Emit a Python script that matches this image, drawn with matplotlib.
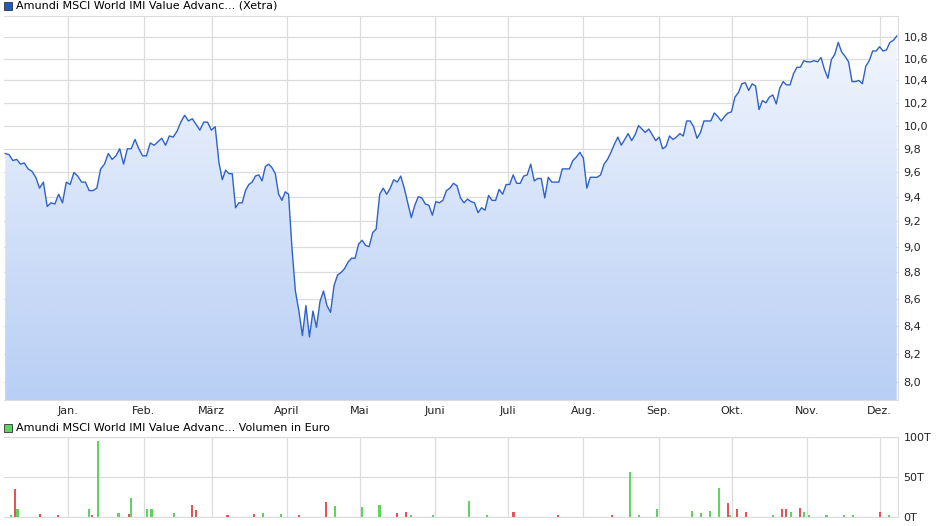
import numpy as np
import pandas as pd
import matplotlib
matplotlib.use("Agg")
import matplotlib.pyplot as plt
from matplotlib.patches import Polygon
from matplotlib.ticker import FixedLocator, NullLocator, FuncFormatter

prices = [9.76, 9.75, 9.70, 9.71, 9.67, 9.68, 9.63, 9.61, 9.56, 9.47, 9.52, 9.32, 9.35, 9.34, 9.42, 9.35,
          9.52, 9.50, 9.60, 9.57, 9.52, 9.52, 9.45, 9.45, 9.47, 9.63, 9.67, 9.76, 9.71, 9.74, 9.80, 9.67,
          9.80, 9.80, 9.88, 9.80, 9.74, 9.74, 9.85, 9.83, 9.86, 9.89, 9.83, 9.91, 9.90, 9.95, 10.03, 10.09,
          10.04, 10.06, 10.01, 9.96, 10.03, 10.03, 9.96, 9.99, 9.68, 9.54, 9.62, 9.59, 9.59, 9.31, 9.35, 9.35,
          9.45, 9.50, 9.52, 9.57, 9.58, 9.53, 9.65, 9.67, 9.64, 9.59, 9.42, 9.37, 9.44, 9.42,
          9.00, 8.66, 8.51, 8.33, 8.55, 8.32, 8.51, 8.39, 8.58, 8.66, 8.55, 8.50, 8.70, 8.78, 8.80, 8.83,
          8.88, 8.91, 8.91,
          9.02, 9.05, 9.01, 9.00, 9.11, 9.14, 9.42, 9.47, 9.42, 9.47, 9.54, 9.52, 9.57, 9.47, 9.35, 9.23,
          9.33, 9.40, 9.39, 9.34, 9.33, 9.25, 9.36, 9.35, 9.37, 9.45, 9.47, 9.51, 9.49, 9.39, 9.35, 9.38, 9.36,
          9.35, 9.27, 9.31, 9.29, 9.41, 9.37, 9.37, 9.46, 9.42, 9.50, 9.50, 9.58, 9.51, 9.51, 9.57, 9.58,
          9.67, 9.53, 9.55, 9.55, 9.39, 9.56, 9.52, 9.52, 9.52, 9.63, 9.63, 9.63, 9.70, 9.73, 9.77, 9.72,
          9.47, 9.56, 9.56, 9.56, 9.58, 9.67, 9.71, 9.77, 9.84, 9.90, 9.83, 9.88, 9.93, 9.87, 9.92, 10.00,
          9.97, 9.94, 9.97, 9.92, 9.87, 9.90, 9.80, 9.82, 9.91, 9.88, 9.90, 9.93, 9.91, 10.04, 10.04, 9.99,
          9.89, 9.94, 10.04, 10.04, 10.04, 10.11, 10.08, 10.04, 10.08, 10.11, 10.12, 10.25, 10.29, 10.37,
          10.38, 10.31, 10.37, 10.35, 10.14, 10.22, 10.20, 10.25, 10.27, 10.19, 10.33, 10.39, 10.36, 10.36,
          10.46, 10.52, 10.52, 10.58, 10.57, 10.57, 10.58, 10.57, 10.61, 10.50, 10.42, 10.59, 10.64, 10.75,
          10.66, 10.62, 10.57, 10.39, 10.39, 10.40, 10.37, 10.53, 10.58, 10.67, 10.67, 10.71, 10.67, 10.68,
          10.75, 10.77, 10.81]

# known dates for a few points of the series (index -> date)
anchor_idx = [0, 56, 78, 161, len(prices) - 1]
anchor_dates = ["2024-12-06", "2025-03-04", "2025-04-03", "2025-08-01", "2025-12-08"]

# volume events: (fraction of the time span, value in T, up-day)
vol_pos = [0.008, 0.012, 0.015, 0.04, 0.06, 0.095, 0.105, 0.098, 0.128, 0.140, 0.142, 0.16, 0.165,
           0.19, 0.21, 0.215, 0.25, 0.28, 0.29, 0.31, 0.33, 0.36, 0.37, 0.40, 0.42, 0.44, 0.45, 0.455,
           0.48, 0.52, 0.54, 0.57, 0.62, 0.68, 0.70, 0.71, 0.73, 0.77, 0.78, 0.79, 0.80, 0.81, 0.812,
           0.82, 0.83, 0.86, 0.87, 0.875, 0.88, 0.89, 0.895, 0.90, 0.92, 0.94, 0.95, 0.98, 0.99]
vol_val = [2, 35, 10, 4, 2, 10, 95, 3, 5, 4, 24, 10, 10, 5, 15, 9, 3, 4, 5, 4, 3, 19, 14, 12, 15,
           5, 6, 3, 2, 20, 2, 6, 3, 3, 56, 2, 10, 8, 5, 8, 36, 17, 3, 10, 6, 2, 10, 10, 6, 11, 6, 3,
           2, 2, 2, 6, 2]
vol_up = [1, 0, 1, 0, 0, 1, 1, 0, 1, 0, 1, 1, 1, 1, 0, 0, 0, 0, 1, 1, 0, 0, 1, 1, 1, 0, 0, 1, 1,
          1, 1, 0, 0, 0, 1, 1, 1, 1, 1, 1, 1, 0, 1, 0, 0, 1, 0, 0, 1, 0, 1, 1, 1, 1, 1, 0, 1]

month_labels = ["Jan.", "Feb.", "März", "April", "Mai", "Juni", "Juli", "Aug.", "Sep.", "Okt.", "Nov.", "Dez."]
price_ticks = [8.0, 8.2, 8.4, 8.6, 8.8, 9.0, 9.2, 9.4, 9.6, 9.8, 10.0, 10.2, 10.4, 10.6, 10.8]

anchor_num = matplotlib.dates.date2num(pd.to_datetime(anchor_dates))
x = np.interp(np.arange(len(prices)), anchor_idx, anchor_num)
x0, x1 = x[0] - 0.5, x[-1] + 0.5
month_x = matplotlib.dates.date2num(pd.date_range("2025-01-01", periods=12, freq="MS"))

W, H = 940, 526
fig = plt.figure(figsize=(W / 100, H / 100), dpi=100)
grid_c = "#dcdcdc"

ax = fig.add_axes([4 / W, 1 - 400 / H, 894 / W, 384 / H])
ax.set_yscale("log")
ymin, ymax = 7.876, 11.0
ax.set_xlim(x0, x1)
ax.set_ylim(ymin, ymax)
grad = np.linspace(0, 1, 256).reshape(-1, 1)
cmap = matplotlib.colors.LinearSegmentedColormap.from_list("g", ["#b9cff5", "#f6f9fe"])
im = ax.imshow(grad, aspect="auto", cmap=cmap, origin="lower",
               extent=[x0, x1, ymin, ymax], zorder=1)
poly = Polygon(np.column_stack([np.r_[x[0], x, x[-1]], np.r_[ymin, prices, ymin]]),
               closed=True, transform=ax.transData, facecolor="none", edgecolor="none")
ax.add_patch(poly)
im.set_clip_path(poly)
ax.plot(x, prices, color="#2f62c8", lw=1.0, zorder=3)
ax.yaxis.set_major_locator(FixedLocator(price_ticks))
ax.yaxis.set_minor_locator(NullLocator())
ax.yaxis.set_major_formatter(FuncFormatter(lambda v, p: f"{v:.1f}".replace(".", ",")))
ax.yaxis.tick_right()
ax.set_xticks(month_x)
ax.set_xticklabels(month_labels)
ax.tick_params(length=0, labelsize=8, colors="#222222", pad=4)
ax.grid(True, color=grid_c, lw=0.9, zorder=0)
ax.set_axisbelow(True)
for s in ax.spines.values():
    s.set_color(grid_c)
ax.spines["left"].set_visible(False)
fig.text(16 / W, 1 - 6 / H, "Amundi MSCI World IMI Value Advanc... (Xetra)", fontsize=8, va="center")
fig.patches.append(matplotlib.patches.Rectangle((4 / W, 1 - 10 / H), 8 / W, 8 / H, transform=fig.transFigure,
                                                facecolor="#1f5bc4", edgecolor="#333333", lw=0.6))

av = fig.add_axes([4 / W, 1 - 517 / H, 894 / W, 80 / H])
av.set_xlim(x0, x1)
av.set_ylim(0, 100)
vx = x0 + np.array(vol_pos) * (x1 - x0)
cols = ["#5fd35f" if u else "#e05555" for u in vol_up]
av.bar(vx, vol_val, width=0.9, color=cols, zorder=2)
av.set_yticks([0, 50, 100])
av.set_yticklabels(["0T", "50T", "100T"])
av.yaxis.tick_right()
av.set_xticks(month_x)
av.set_xticklabels([])
av.tick_params(length=0, labelsize=8, colors="#222222", pad=4)
av.grid(True, color=grid_c, lw=0.9, zorder=0)
av.set_axisbelow(True)
for s in av.spines.values():
    s.set_color(grid_c)
av.spines["left"].set_visible(False)
fig.text(16 / W, 1 - 428 / H, "Amundi MSCI World IMI Value Advanc... Volumen in Euro", fontsize=8, va="center")
fig.patches.append(matplotlib.patches.Rectangle((4 / W, 1 - 432 / H), 8 / W, 8 / H, transform=fig.transFigure,
                                                facecolor="#5fd35f", edgecolor="#333333", lw=0.6))

fig.savefig("out.png", dpi=100, facecolor="white")
